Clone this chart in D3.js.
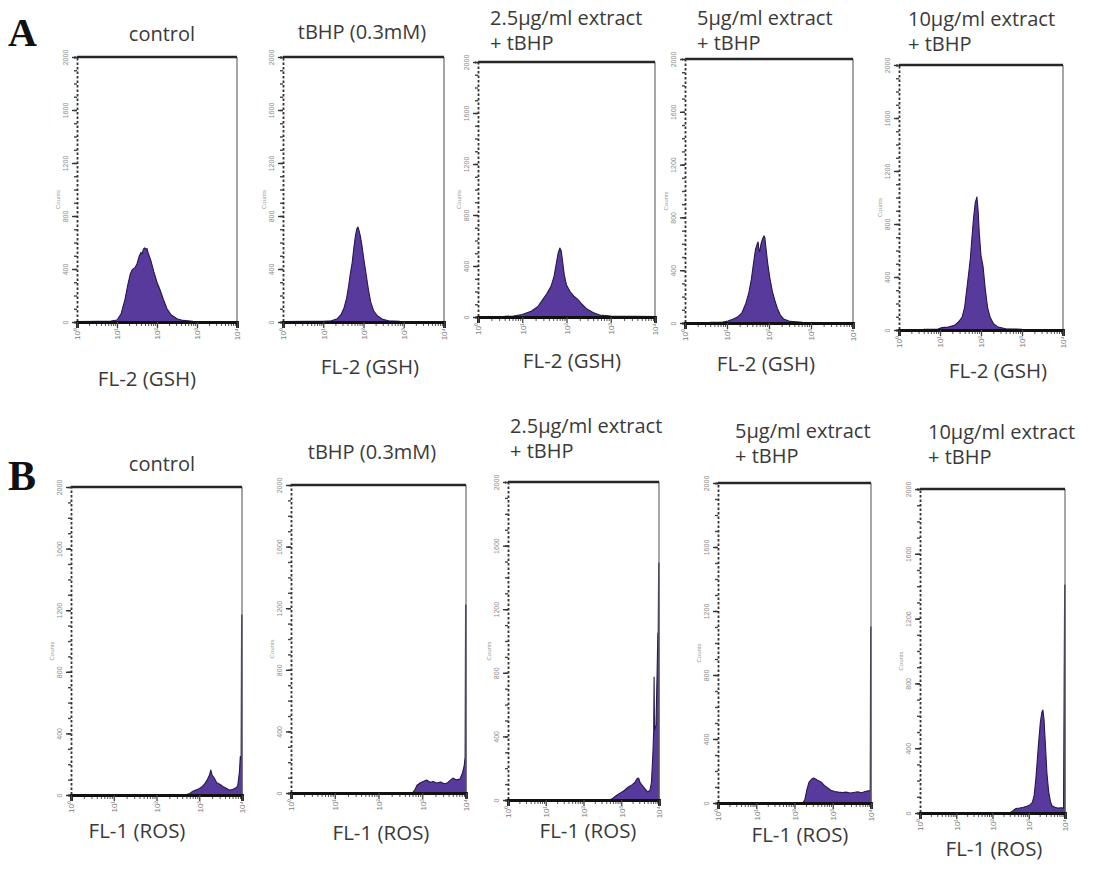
<!DOCTYPE html>
<html>
<head>
<meta charset="utf-8">
<script src="https://cdn.jsdelivr.net/npm/d3@7"></script>
<style>
  html, body { margin: 0; padding: 0; background: #fff; }
  svg { display: block; }
</style>
</head>
<body>
<svg id="chart" width="1095" height="872"></svg>
<script>
// ---------------- DATA ----------------
// Histograms: [log10(channel), counts]
const countTicks = [0, 400, 800, 1200, 1600, 2000];
const decadeTicks = [1, 10, 100, 1000, 10000];
const decadeLabels = ["10\u2070", "10\u00b9", "10\u00b2", "10\u00b3", "10\u2074"];

const titlesA = [["control"], ["tBHP (0.3mM)"], ["2.5\u00b5g/ml extract", "+ tBHP"], ["5\u00b5g/ml extract", "+ tBHP"], ["10\u00b5g/ml extract", "+ tBHP"]];
const titlesB = [["control"], ["tBHP (0.3mM)"], ["2.5\u00b5g/ml extract", "+ tBHP"], ["5\u00b5g/ml extract", "+ tBHP"], ["10\u00b5g/ml extract", "+ tBHP"]];
const axisTitleA = "FL-2 (GSH)";
const axisTitleB = "FL-1 (ROS)";

const gshControl = [[0,4],[0.5,5],[0.85,7],[1.0,15],[1.1,60],[1.2,170],[1.27,280],[1.33,360],[1.38,395],[1.45,410],[1.5,440],[1.56,500],[1.6,525],[1.63,515],[1.66,550],[1.69,560],[1.72,548],[1.75,555],[1.78,520],[1.85,460],[1.92,380],[2.0,300],[2.08,240],[2.16,170],[2.25,100],[2.35,55],[2.5,25],[2.65,12],[2.9,6],[3.4,4],[4,3]];
const gshTbhp = [[0,4],[0.6,5],[1.0,6],[1.2,10],[1.35,25],[1.45,60],[1.52,110],[1.58,180],[1.63,270],[1.67,360],[1.72,450],[1.76,560],[1.8,650],[1.83,700],[1.86,717],[1.89,690],[1.92,650],[1.96,580],[2.0,490],[2.04,410],[2.08,330],[2.13,230],[2.18,150],[2.25,85],[2.35,45],[2.48,20],[2.62,10],[2.9,5],[4,3]];
const gshExt25 = [[0,4],[0.6,5],[0.8,8],[1.0,20],[1.2,45],[1.35,80],[1.45,130],[1.55,180],[1.65,240],[1.72,320],[1.77,420],[1.81,500],[1.85,541],[1.88,520],[1.91,440],[1.95,330],[2.0,250],[2.08,200],[2.16,165],[2.25,140],[2.35,100],[2.45,65],[2.6,35],[2.75,15],[3.0,8],[4,4]];
const gshExt5 = [[0,4],[0.6,5],[0.9,8],[1.02,15],[1.15,30],[1.25,45],[1.35,75],[1.45,150],[1.52,230],[1.58,330],[1.63,450],[1.68,560],[1.72,600],[1.74,614],[1.76,560],[1.78,540],[1.81,600],[1.85,640],[1.88,660],[1.9,650],[1.93,560],[1.97,450],[2.02,340],[2.08,240],[2.14,170],[2.2,110],[2.27,60],[2.35,30],[2.5,12],[2.8,6],[4,4]];
const gshExt10 = [[0,4],[0.6,5],[0.95,8],[1.05,18],[1.2,22],[1.35,35],[1.45,60],[1.54,98],[1.6,170],[1.65,300],[1.7,430],[1.74,540],[1.78,700],[1.82,850],[1.86,960],[1.9,1004],[1.93,900],[1.96,720],[2.0,560],[2.05,480],[2.1,320],[2.16,170],[2.22,98],[2.3,50],[2.4,25],[2.6,10],[3.0,6],[4,4]];

const rosControl = [[0,3],[2.7,3],[2.78,10],[2.85,25],[2.95,35],[3.05,50],[3.12,70],[3.18,95],[3.24,130],[3.27,162],[3.3,130],[3.35,110],[3.41,80],[3.48,70],[3.55,55],[3.62,45],[3.7,32],[3.78,35],[3.85,45],[3.9,60],[3.94,150],[3.96,250],[3.98,230],[3.99,1169],[4.0,1169]];
const rosTbhp = [[0,3],[2.78,3],[2.83,20],[2.88,50],[2.95,65],[3.02,75],[3.1,84],[3.18,70],[3.25,75],[3.33,65],[3.42,72],[3.5,60],[3.56,63],[3.63,80],[3.7,97],[3.78,85],[3.86,90],[3.92,130],[3.96,180],[3.98,234],[3.99,1220],[4.0,1220]];
const rosExt25 = [[0,3],[2.72,3],[2.78,12],[2.88,30],[2.98,45],[3.08,60],[3.18,80],[3.28,95],[3.36,110],[3.42,135],[3.46,138],[3.5,110],[3.56,90],[3.63,70],[3.7,50],[3.76,60],[3.8,110],[3.84,300],[3.86,440],[3.87,774],[3.88,440],[3.92,470],[3.95,800],[3.97,1050],[3.98,1050],[3.99,1490],[4.0,1490]];
const rosExt5 = [[0,3],[2.22,3],[2.27,20],[2.32,80],[2.38,130],[2.45,150],[2.5,156],[2.55,150],[2.62,140],[2.7,130],[2.78,110],[2.86,95],[2.95,80],[3.05,72],[3.15,68],[3.25,65],[3.35,68],[3.45,62],[3.55,66],[3.65,70],[3.75,64],[3.85,72],[3.93,76],[3.98,78],[3.99,1100],[4.0,1100]];
const rosExt10 = [[0,3],[2.5,3],[2.57,15],[2.65,28],[2.75,31],[2.85,35],[2.95,42],[3.03,50],[3.1,65],[3.15,110],[3.2,220],[3.26,400],[3.32,560],[3.36,620],[3.39,636],[3.42,580],[3.46,420],[3.5,250],[3.55,130],[3.6,70],[3.64,45],[3.72,35],[3.8,30],[3.9,32],[3.96,30],[3.99,1407],[4.0,1407]];

// ---------------- LAYOUT ----------------
const layoutA = [
  {L:77,  R:237,  T:57, B:322, title:{x:162, y:34, anchor:"middle"}, xlab:{x:147, y:379}},
  {L:283, R:444,  T:57, B:322, title:{x:362, y:32, anchor:"middle"}, xlab:{x:370, y:367}},
  {L:478, R:655,  T:62, B:317, title:{x:490, y:18, anchor:"start"},  xlab:{x:572, y:361}},
  {L:685, R:853,  T:59, B:323, title:{x:697, y:18, anchor:"start"},  xlab:{x:766, y:364}},
  {L:899, R:1063, T:65, B:330, title:{x:908, y:19, anchor:"start"},  xlab:{x:998, y:371}}
];
const layoutB = [
  {L:71,  R:242,  T:487, B:795, title:{x:162, y:464, anchor:"middle"}, xlab:{x:137, y:831}},
  {L:291, R:466,  T:485, B:793, title:{x:372, y:452, anchor:"middle"}, xlab:{x:381, y:833}},
  {L:508, R:659,  T:482, B:800, title:{x:510, y:426, anchor:"start"},  xlab:{x:588, y:831}},
  {L:718, R:871,  T:483, B:803, title:{x:735, y:431, anchor:"start"},  xlab:{x:800, y:835}},
  {L:920, R:1065, T:489, B:813, title:{x:928, y:432, anchor:"start"},  xlab:{x:994, y:849}}
];

const gshSeries = [gshControl, gshTbhp, gshExt25, gshExt5, gshExt10];
const rosSeries = [rosControl, rosTbhp, rosExt25, rosExt5, rosExt10];

const FILL = "#58399c";
const TEXT = "#3a3a3a";
const FONT = "Open Sans, sans-serif";

const svg = d3.select("#chart");

function drawPanel(lay, data, titleLines, xTitle) {
  const g = svg.append("g");
  const x = d3.scaleLog().domain([1, 10000]).range([lay.L, lay.R]);
  const y = d3.scaleLinear().domain([0, 2000]).range([lay.B, lay.T]);

  // histogram
  const area = d3.area()
    .x(d => x(Math.pow(10, d[0])))
    .y0(y(0))
    .y1(d => y(d[1]))
    .curve(d3.curveLinear);
  g.append("path").datum(data)
    .attr("d", area)
    .attr("fill", FILL)
    .attr("stroke", "#26184d")
    .attr("stroke-width", 1.1)
    .attr("stroke-linejoin", "round");

  // right border (thin) and top border (thick)
  g.append("line").attr("x1", lay.R).attr("x2", lay.R).attr("y1", lay.T).attr("y2", lay.B)
    .attr("stroke", "#6a6a6a").attr("stroke-width", 1.2);
  g.append("line").attr("x1", lay.L).attr("x2", lay.R).attr("y1", lay.T).attr("y2", lay.T)
    .attr("stroke", "#262626").attr("stroke-width", 2.6);

  // left axis: minor dotted ticks
  const yMinor = d3.axisLeft(y).tickValues(d3.range(0, 2001, 100)).tickSize(3).tickFormat("");
  const gy2 = g.append("g").attr("transform", `translate(${lay.L},0)`).call(yMinor);
  gy2.select(".domain").attr("stroke", "#333").attr("stroke-width", 1.8).attr("stroke-dasharray", "2.5,2");
  gy2.selectAll(".tick line").attr("stroke", "#444").attr("stroke-width", 1.4);

  const yAxis = d3.axisLeft(y).tickValues(countTicks).tickSize(5).tickFormat(d => String(d));
  const gy = g.append("g").attr("transform", `translate(${lay.L},0)`).call(yAxis);
  gy.select(".domain").remove();
  gy.selectAll(".tick line").attr("stroke", "#333").attr("stroke-width", 1.4);
  gy.selectAll(".tick text")
    .attr("transform", "rotate(-90)")
    .attr("x", 0).attr("y", -9)
    .attr("dy", 0)
    .attr("text-anchor", "middle")
    .attr("font-family", "Liberation Sans, Arial, sans-serif")
    .attr("font-size", 7)
    .attr("fill", "#8a8a8a");

  g.append("text")
    .attr("transform", `translate(${lay.L - 17},${(lay.T + lay.B) / 2 + 10}) rotate(-90)`)
    .attr("text-anchor", "middle")
    .attr("font-family", "Liberation Sans, Arial, sans-serif")
    .attr("font-size", 6)
    .attr("fill", "#9a9a9a")
    .text("Counts");

  // bottom axis
  const minorVals = [];
  decadeTicks.slice(0, 4).forEach(d => [2,3,4,5,6,7,8,9].forEach(m => minorVals.push(d * m)));
  const xMinor = d3.axisBottom(x).tickValues(minorVals).tickSize(4).tickFormat("");
  const gx2 = g.append("g").attr("transform", `translate(0,${lay.B})`).call(xMinor);
  gx2.select(".domain").remove();
  gx2.selectAll(".tick line").attr("stroke", "#555").attr("stroke-width", 1);

  const xAxis = d3.axisBottom(x).tickValues(decadeTicks).tickSize(6)
    .tickFormat((d, i) => decadeLabels[i]);
  const gx = g.append("g").attr("transform", `translate(0,${lay.B})`).call(xAxis);
  gx.select(".domain").attr("stroke", "#111").attr("stroke-width", 2.8);
  gx.selectAll(".tick line").attr("stroke", "#444").attr("stroke-width", 1.3);
  gx.selectAll(".tick text")
    .attr("transform", "rotate(-90)")
    .attr("x", -6).attr("y", 0).attr("dy", "0.35em")
    .attr("text-anchor", "end")
    .attr("font-family", "Liberation Sans, Arial, sans-serif")
    .attr("font-size", 8)
    .attr("fill", "#7a7a7a");

  // titles
  const t = g.append("text")
    .attr("font-family", FONT)
    .attr("font-size", 20)
    .attr("fill", TEXT)
    .attr("text-anchor", lay.title.anchor);
  titleLines.forEach((line, i) => {
    t.append("tspan").attr("x", lay.title.x).attr("y", lay.title.y + i * 25)
      .attr("dy", "0.35em").text(line);
  });

  g.append("text")
    .attr("x", lay.xlab.x).attr("y", lay.xlab.y).attr("dy", "0.35em")
    .attr("text-anchor", "middle")
    .attr("font-family", FONT)
    .attr("font-size", 20.5)
    .attr("fill", TEXT)
    .text(xTitle);
}

layoutA.forEach((lay, i) => drawPanel(lay, gshSeries[i], titlesA[i], axisTitleA));
layoutB.forEach((lay, i) => drawPanel(lay, rosSeries[i], titlesB[i], axisTitleB));

svg.append("text").attr("x", 8).attr("y", 46)
  .attr("font-family", "Liberation Serif, Times New Roman, serif")
  .attr("font-weight", "bold").attr("font-size", 40).attr("fill", "#111").text("A");
svg.append("text").attr("x", 8).attr("y", 490)
  .attr("font-family", "Liberation Serif, Times New Roman, serif")
  .attr("font-weight", "bold").attr("font-size", 42).attr("fill", "#111").text("B");
</script>
</body>
</html>
